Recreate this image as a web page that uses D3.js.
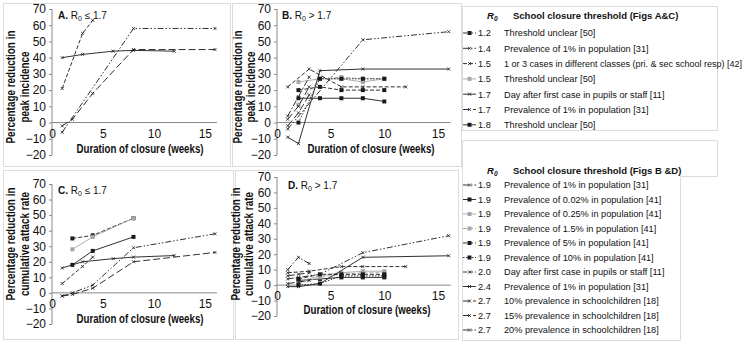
<!DOCTYPE html>
<html><head><meta charset="utf-8">
<script src="https://cdn.jsdelivr.net/npm/d3@7"></script>
<style>
body{margin:0;background:#fff;}
text{font-family:"Liberation Sans",Arial,sans-serif;fill:#111;}
</style></head><body>
<script>
// legend rows
const r0AC = ["1.2","1.4","1.5","1.5","1.7","1.7","1.8"];
const labelsAC = ["Threshold unclear [50]", "Prevalence of 1% in population [31]",
  "1 or 3 cases in different classes (pri. & sec school resp) [42]", "Threshold unclear [50]",
  "Day after first case in pupils or staff [11]", "Prevalence of 1% in population [31]", "Threshold unclear [50]"];
const r0BD = ["1.9","1.9","1.9","1.9","1.9","1.9","2.0","2.4","2.7","2.7","2.7"];
const labelsBD = ["Prevalence of 1% in population [31]", "Prevalence of 0.02% in population [41]",
  "Prevalence of 0.25% in population [41]", "Prevalence of 1.5% in population [41]",
  "Prevalence of 5% in population [41]", "Prevalence of 10% in population [41]",
  "Day after first case in pupils or staff [11]", "Prevalence of 1% in population [31]",
  "10% prevalence in schoolchildren [18]", "15% prevalence in schoolchildren [18]",
  "20% prevalence in schoolchildren [18]"];
const weekTicks = [0, 5, 10, 15];
const pctTicks = [-20, -10, 0, 10, 20, 30, 40, 50, 60, 70];

// [weeks of closure, % reduction]
// A: peak incidence, R0 <= 1.7 (same order as labelsAC)
const peakA_12 = [];
const peakA_14 = [[1,-6],[8,58],[16,58]];
const peakA_15a = [[1,21],[3,55],[4,63]];
const peakA_15b = [];
const peakA_17a = [[1,40],[3,42],[6,44],[8,44.5],[12,44]];
const peakA_17b = [[1,-2],[2,2],[4,18],[8,45],[16,45]];
const peakA_18 = [];
// C: cumulative attack rate, R0 <= 1.7
const carC_12 = [[2,35],[4,37],[8,48]];
const carC_14 = [[1,-2],[2,0],[4,5],[8,29],[16,38]];
const carC_15a = [[1,6],[3,17],[4,23]];
const carC_15b = [[2,28],[4,36],[8,48]];
const carC_17a = [[1,16],[3,20],[6,22],[8,23],[12,24]];
const carC_17b = [[1,-2],[2,-1],[4,3],[8,20],[16,26]];
const carC_18 = [[2,18],[4,27],[8,36]];
// B: peak incidence, R0 > 1.7 (same order as labelsBD)
const peakB_19a = [[1,-4],[8,51],[16,56]];
const peakB_19b = [[2,15],[4,15],[6,15],[8,15],[10,13]];
const peakB_19c = [[2,25],[4,27],[6,27],[8,25],[10,27]];
const peakB_19d = [[2,11],[4,27],[6,28],[8,27],[10,27]];
const peakB_19e = [[2,20],[4,22],[6,20],[8,20],[10,20]];
const peakB_19f = [[2,0],[4,27],[6,27],[8,27],[10,27]];
const peakB_20 = [[1,22],[3,33],[6,22],[8,22],[12,22]];
const peakB_24 = [[1,-9],[2,-13],[4,32],[8,33],[16,33]];
const peakB_27a = [[1,-2],[2,6],[3,17]];
const peakB_27b = [[1,2],[2,10],[3,22]];
const peakB_27c = [[1,4],[2,16],[3,28]];
// D: cumulative attack rate, R0 > 1.7
const carD_19a = [[1,4],[2,5],[4,7],[8,21],[16,32]];
const carD_19b = [[2,3],[4,4],[6,5],[8,5],[10,5]];
const carD_19c = [[2,2],[4,6],[6,8],[8,9],[10,9]];
const carD_19d = [[2,1],[4,5],[6,7],[8,8],[10,8]];
const carD_19e = [[2,4],[4,7],[6,7],[8,7],[10,7]];
const carD_19f = [[2,0],[4,1],[6,6],[8,6],[10,6]];
const carD_20 = [[1,8],[3,9],[6,12],[8,12],[12,12]];
const carD_24 = [[1,-1],[2,-1],[4,1],[8,18],[16,19]];
const carD_27a = [[1,1],[2,2],[3,3]];
const carD_27b = [[1,6],[2,7],[3,8]];
const carD_27c = [[1,10],[2,18],[3,14]];

const dashes = {solid: null, long: "7,3", dash: "4,2", dot: "1.5,1.5",
  dd: "6,2,1.5,2", ddd: "6,2,1.5,2,1.5,2"};
const K = "#1a1a1a", G = "#a6a6a6";
const stylesAC = [
  {c: K, d: "dash", m: "sq"}, {c: K, d: "ddd", m: "x"}, {c: K, d: "dash", m: "x"},
  {c: G, d: "solid", m: "sq"}, {c: K, d: "solid", m: "x"}, {c: K, d: "long", m: "x"},
  {c: K, d: "solid", m: "sq"}];
const stylesBD = [
  {c: K, d: "ddd", m: "x"}, {c: K, d: "solid", m: "sq"}, {c: G, d: "solid", m: "sq"},
  {c: G, d: "dash", m: "sq"}, {c: K, d: "dash", m: "sq"}, {c: K, d: "dot", m: "sq"},
  {c: K, d: "dash", m: "x"}, {c: K, d: "solid", m: "x"}, {c: K, d: "long", m: "x"},
  {c: K, d: "long", m: "x"}, {c: K, d: "dd", m: "x"}];

const svg = d3.select("body").append("svg")
    .attr("width", 748).attr("height", 344);

// faint frames around each block
const frame = "#dcdcdc";
[[3,3,227,163],[232,3,229,163],[3,170,230,169],[235,170,223,169],[462,6,255,124]].forEach(r =>
  svg.append("rect").attr("x", r[0]+.5).attr("y", r[1]+.5).attr("width", r[2]).attr("height", r[3])
    .attr("fill", "none").attr("stroke", frame));
svg.append("path").attr("d", "M462.5,140.5H717.5V176.5H680.5V340.5H462.5Z")
    .attr("fill", "none").attr("stroke", frame);

function marker(g, m, c, x, y) {
  if (m == "sq") {
    g.append("rect").attr("x", x - 2).attr("y", y - 2).attr("width", 4).attr("height", 4).attr("fill", c);
  } else if (m == "x") {
    g.append("path").attr("d", `M${x-1.5},${y-1.5}L${x+1.5},${y+1.5}M${x-1.5},${y+1.5}L${x+1.5},${y-1.5}`)
      .attr("stroke", c).attr("stroke-width", 0.8).attr("fill", "none");
  }
}

// bold title text, horizontally condensed to the widths measured on the picture
function boldTitle(sel, len) {
  sel.attr("font-size", 12.5).attr("font-weight", "bold")
    .attr("textLength", len).attr("lengthAdjust", "spacingAndGlyphs");
}

function panel(p) {
  const x = d3.scaleLinear().domain([0, 16]).range([p.x0, p.x1]);
  const y = d3.scaleLinear().domain([70, -20]).range([p.y70, p.y20]);
  const g = svg.append("g");

  // y axis
  const ya = g.append("g").attr("transform", `translate(${p.x0},0)`)
      .call(d3.axisLeft(y).tickValues(pctTicks).tickSize(3).tickPadding(3));
  ya.select(".domain").attr("stroke", "#888").attr("d", `M0,${p.y70}V${p.y20}`);
  ya.selectAll(".tick line").attr("stroke", "#888");
  ya.selectAll("text").attr("font-size", 12).attr("fill", "#111")
      .style("font-family", '"Liberation Sans",Arial,sans-serif');

  // x axis along zero
  const xa = g.append("g").attr("transform", `translate(0,${y(0)})`)
      .call(d3.axisBottom(x).tickValues(weekTicks).tickSize(0).tickPadding(p.pad));
  xa.select(".domain").attr("stroke", "#888").attr("d", `M${p.x0},0H${p.x1 + 2}`);
  xa.selectAll("text").attr("font-size", 12).attr("fill", "#111")
      .style("font-family", '"Liberation Sans",Arial,sans-serif');

  // series
  const line = d3.line().x(d => x(d[0])).y(d => y(d[1]));
  p.series.forEach((s, i) => {
    const st = p.styles[i];
    if (!s.length) return;
    g.append("path").attr("d", line(s)).attr("fill", "none")
      .attr("stroke", st.c).attr("stroke-width", 0.9)
      .attr("stroke-dasharray", dashes[st.d]);
    s.forEach(d => marker(g, st.m, st.c, x(d[0]), y(d[1])));
  });

  // titles
  const t = g.append("text").attr("x", p.tx).attr("y", p.ty).attr("font-size", 10);
  t.append("tspan").attr("font-weight", "bold").text(p.letter + ". ");
  t.append("tspan").text("R");
  t.append("tspan").attr("font-size", 7).attr("dy", 2).text("0");
  t.append("tspan").attr("dy", -2).text(" " + p.cond);

  g.append("text").attr("x", p.xtx).attr("y", p.xty).attr("text-anchor", "middle")
      .text("Duration of closure (weeks)").call(boldTitle, 127);

  p.ylab.forEach((s, j) => {
    g.append("text").attr("transform", `translate(${p.ylx[j]},${p.yly}) rotate(-90)`)
      .attr("text-anchor", "middle").attr("dy", "0.35em")
      .text(s).call(boldTitle, p.ylen[j]);
  });
}

panel({letter: "A", cond: "\u2264 1.7", x0: 52, x1: 215, y70: 9, y20: 155, pad: 7,
  tx: 58, ty: 19, xtx: 140, xty: 153, ylx: [11, 25], yly: 87, ylen: [113, 71],
  ylab: ["Percentage reduction in", "peak incidence"], styles: stylesAC,
  series: [peakA_12, peakA_14, peakA_15a, peakA_15b, peakA_17a, peakA_17b, peakA_18]});
panel({letter: "B", cond: "> 1.7", x0: 277, x1: 448.7, y70: 9, y20: 155, pad: 7,
  tx: 282, ty: 19, xtx: 371, xty: 153, ylx: [238, 251], yly: 87, ylen: [113, 71],
  ylab: ["Percentage reduction in", "peak incidence"], styles: stylesBD,
  series: [peakB_19a, peakB_19b, peakB_19c, peakB_19d, peakB_19e, peakB_19f, peakB_20, peakB_24, peakB_27a, peakB_27b, peakB_27c]});
panel({letter: "C", cond: "\u2264 1.7", x0: 52, x1: 215, y70: 184, y20: 324, pad: 7,
  tx: 58, ty: 194, xtx: 140, xty: 323, ylx: [11, 25], yly: 244, ylen: [113, 104],
  ylab: ["Percentage reduction in", "cumulative attack rate"], styles: stylesAC,
  series: [carC_12, carC_14, carC_15a, carC_15b, carC_17a, carC_17b, carC_18]});
panel({letter: "D", cond: "> 1.7", x0: 277, x1: 448.7, y70: 177, y20: 316, pad: 6,
  tx: 288, ty: 189, xtx: 367, xty: 314, ylx: [236, 249], yly: 244, ylen: [113, 104],
  ylab: ["Percentage reduction in", "cumulative attack rate"], styles: stylesBD,
  series: [carD_19a, carD_19b, carD_19c, carD_19d, carD_19e, carD_19f, carD_20, carD_24, carD_27a, carD_27b, carD_27c]});

// legends
function legend(top, rowY, r0s, labels, styles, figs) {
  const g = svg.append("g");
  const h = g.append("text").attr("y", top + 3.5).attr("font-size", 9.5).attr("font-weight", "bold");
  h.append("tspan").attr("x", 487).attr("font-style", "italic").text("R");
  h.append("tspan").attr("font-size", 6.5).attr("dy", 2).attr("font-style", "italic").text("0");
  h.append("tspan").attr("x", 513).attr("dy", -2).text("School closure threshold (Figs " + figs + ")");
  r0s.forEach((r, i) => {
    const yy = rowY[i], st = styles[i];
    g.append("line").attr("x1", 463).attr("x2", 476).attr("y1", yy).attr("y2", yy)
      .attr("stroke", st.c).attr("stroke-width", 0.9).attr("stroke-dasharray", dashes[st.d]);
    marker(g, st.m, st.c, 469.5, yy);
    g.append("text").attr("x", 478).attr("y", yy + 3.3).attr("font-size", 9.2).text(r);
    const lt = g.append("text").attr("x", 504).attr("y", yy + 3.3).attr("font-size", 9.2).text(labels[i]);
    if (labels[i].length > 50) lt.attr("textLength", 238).attr("lengthAdjust", "spacingAndGlyphs");
  });
}
legend(15, d3.range(7).map(i => 33 + i * 15.3), r0AC, labelsAC, stylesAC, "A&C");
legend(170, d3.range(11).map(i => 185 + i * 14.5), r0BD, labelsBD, stylesBD, "B &D");
</script>
</body></html>
